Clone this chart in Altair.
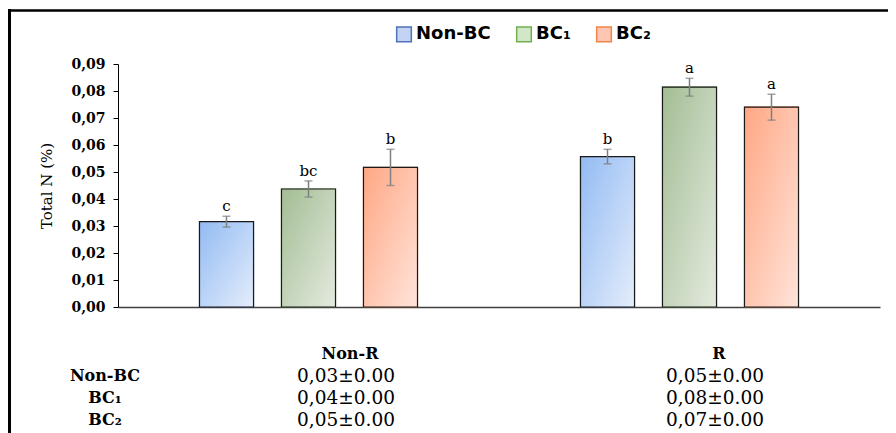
import altair as alt
import pandas as pd

# ---------------- data ----------------
groups = ["Non-R", "R"]
series = ["Non-BC", "BC₁", "BC₂"]
means_nonr = [0.0316, 0.0437, 0.0517]
means_r = [0.0557, 0.0814, 0.0740]
errs_nonr = [0.0020, 0.0030, 0.0067]
errs_r = [0.0027, 0.0033, 0.0048]
letters_nonr = ["c", "bc", "b"]
letters_r = ["b", "a", "a"]
table_nonr = ["0,03±0.00", "0,04±0.00", "0,05±0.00"]
table_r = ["0,05±0.00", "0,08±0.00", "0,07±0.00"]
y_ticks = [0.00, 0.01, 0.02, 0.03, 0.04, 0.05, 0.06, 0.07, 0.08, 0.09]

# ---------------- styles ----------------
grad_colors = {
    "Non-BC": ("#93bbf3", "#e4edfb"),
    "BC₁": ("#a3bd94", "#e4eadf"),
    "BC₂": ("#ffa784", "#ffe4da"),
}
legend_fill = ["#c3d3f1", "#d3e6c8", "#ffc7b2"]
legend_stroke = ["#4f72b8", "#70b050", "#f0844c"]
SERIF = "DejaVu Serif"
SANS = "DejaVu Sans"

rows = []
for g, m, e, l in [("Non-R", means_nonr, errs_nonr, letters_nonr),
                   ("R", means_r, errs_r, letters_r)]:
    for s, mv, ev, lv in zip(series, m, e, l):
        rows.append({"group": g, "series": s, "mean": mv,
                     "lo": mv - ev, "hi": mv + ev, "letter": lv})
df = pd.DataFrame(rows)

trows = []
for g, vals in [("Non-R", table_nonr), ("R", table_r)]:
    for s, v in zip(series, vals):
        trows.append({"col": g, "row": s, "text": v})
tdf = pd.DataFrame(trows)
hdf = pd.DataFrame({"col": groups, "row": ["head", "head"], "text": groups})
ldf = pd.DataFrame({"row": series, "text": series})

W, H = 762, 243

x_enc = alt.X("group:N", scale=alt.Scale(domain=groups, paddingInner=0, paddingOuter=0),
              axis=alt.Axis(labels=False, ticks=False, title=None, domainColor="#404040",
                            domainWidth=1.5, grid=False))
xo_enc = alt.XOffset("series:N", scale=alt.Scale(domain=series, paddingInner=0.341,
                                                 paddingOuter=0.994))
y_scale = alt.Scale(domain=[0, 0.09], nice=False, zero=True)
y_axis = alt.Axis(values=y_ticks, labelExpr="replace(format(datum.value, '.2f'), '.', ',')",
                  labelFont=SERIF, labelFontWeight="bold", labelFontSize=14, labelColor="#000",
                  tickColor="#000", domainColor="#000", tickSize=5, labelPadding=8,
                  grid=False, title="Total N (%)", titleFont=SERIF, titleFontWeight="normal",
                  titleFontSize=15, titleColor="#000", titlePadding=16)
y_enc = alt.Y("mean:Q", scale=y_scale, axis=y_axis)

base = alt.Chart(df)

legend_props = dict(orient="none", legendX=277, legendY=-39, direction="horizontal",
                    title=None, symbolType="square", symbolSize=215, symbolStrokeWidth=1.5,
                    symbolOpacity=1, labelFont=SANS, labelFontWeight="bold", labelFontSize=18,
                    labelColor="#000", columnPadding=22, labelOffset=3)

legend_bars = base.mark_bar(strokeWidth=1.2).encode(
    x=x_enc, xOffset=xo_enc, y=y_enc,
    fill=alt.Fill("series:N", scale=alt.Scale(domain=series, range=legend_fill),
                  legend=alt.Legend(**legend_props)),
    stroke=alt.Stroke("series:N", scale=alt.Scale(domain=series, range=legend_stroke),
                      legend=alt.Legend(**legend_props)),
)

grad_layers = []
for s in series:
    c1, c2 = grad_colors[s]
    grad_layers.append(
        base.transform_filter(alt.datum.series == s).mark_bar(
            fill=alt.Gradient(gradient="linear",
                              stops=[alt.GradientStop(color=c1, offset=0),
                                     alt.GradientStop(color=c2, offset=1)],
                              x1=0, y1=0, x2=1, y2=1),
            stroke="#1a1a1a", strokeWidth=1.2,
        ).encode(x=x_enc, xOffset=xo_enc, y=y_enc)
    )

err_rule = base.mark_rule(color="#7f7f7f", strokeWidth=1.5).encode(
    x=x_enc, xOffset=xo_enc, y=alt.Y("lo:Q", scale=y_scale, axis=y_axis), y2="hi:Q")
err_caps = base.transform_fold(["lo", "hi"], as_=["k", "v"]).mark_tick(
    color="#7f7f7f", thickness=1.5, size=8, orient="horizontal").encode(
    x=x_enc, xOffset=xo_enc, y=alt.Y("v:Q", scale=y_scale, axis=y_axis))
letters = base.mark_text(font=SERIF, fontSize=15, color="#000", baseline="alphabetic",
                         dy=-5).encode(
    x=x_enc, xOffset=xo_enc, y=alt.Y("hi:Q", scale=y_scale, axis=y_axis), text="letter:N")

frame_data = alt.Data(values=[{"a": 1}])
top_rule = alt.Chart(frame_data).mark_rule(color="#000", strokeWidth=2.5).encode(
    x=alt.value(-110), x2=alt.value(800), y=alt.value(-53.5))
left_rule = alt.Chart(frame_data).mark_rule(color="#000", strokeWidth=3).encode(
    x=alt.value(-108.5), y=alt.value(-55), y2=alt.value(400))

main = alt.layer(legend_bars, *grad_layers, err_rule, err_caps, letters)

row_scale = alt.Scale(domain=["head"] + series, range=[290, 356], padding=0)
col_scale = alt.Scale(domain=groups, range=[228, 597], padding=0)
table_vals = alt.Chart(tdf).mark_text(font=SERIF, fontSize=18.5, color="#000").encode(
    x=alt.X("col:N", scale=col_scale, axis=None),
    y=alt.Y("row:N", scale=row_scale, axis=None),
    text="text:N",
)
table_head = alt.Chart(hdf).mark_text(font=SERIF, fontSize=16, fontWeight="bold",
                                      color="#000", dx=4).encode(
    x=alt.X("col:N", scale=col_scale, axis=None),
    y=alt.Y("row:N", scale=row_scale, axis=None),
    text="text:N",
)
table_labels = alt.Chart(ldf).mark_text(font=SERIF, fontSize=16, fontWeight="bold",
                                        color="#000").encode(
    x=alt.value(-13), y=alt.Y("row:N", scale=row_scale, axis=None), text="text:N")

chart = alt.layer(main, alt.layer(table_vals, table_head, table_labels), top_rule,
                  left_rule).resolve_scale(
    x="independent", y="independent").properties(
    width=W, height=H,
    autosize=alt.AutoSizeParams(type="none"),
    padding={"left": 110, "top": 56, "right": 8, "bottom": 126},
).configure_view(stroke=None)

chart.save("out.html", embed_options={"renderer": "svg", "actions": False})
